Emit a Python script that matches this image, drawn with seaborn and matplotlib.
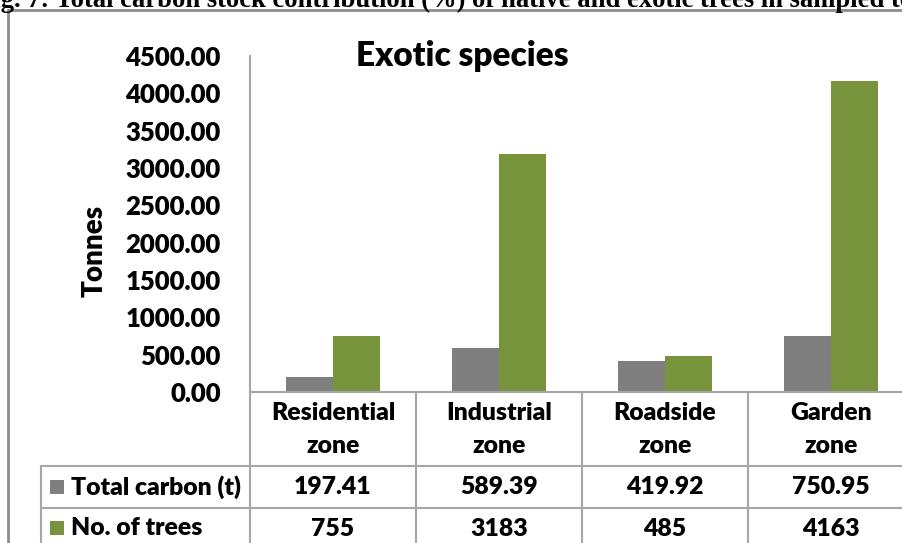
import matplotlib
matplotlib.use("Agg")
import matplotlib.pyplot as plt
import matplotlib.transforms as mtransforms
from matplotlib.patches import Rectangle
import pandas as pd
import seaborn as sns

# ---- data ----
zones = ["Residential\nzone", "Industrial\nzone", "Roadside\nzone", "Garden\nzone"]
series_names = ["Total carbon (t)", "No. of trees"]
total_carbon = [197.41, 589.39, 419.92, 750.95]
no_of_trees = [755, 3183, 485, 4163]
carbon_labels = ["197.41", "589.39", "419.92", "750.95"]
tree_labels = ["755", "3183", "485", "4163"]
y_ticks = [0, 500, 1000, 1500, 2000, 2500, 3000, 3500, 4000, 4500]

GRAY = "#7f7f7f"
GREEN = "#77933c"
LINE = "#a6a6a6"
FONT = "Lato"
WEIGHT = "heavy"

df = pd.DataFrame({
    "zone": zones * 2,
    "series": [series_names[0]] * 4 + [series_names[1]] * 4,
    "value": total_carbon + no_of_trees,
})

sns.set_theme(style="white")
plt.rcParams["font.family"] = [FONT, "DejaVu Sans"]
plt.rcParams["font.weight"] = WEIGHT

W, H = 903, 543
fig = plt.figure(figsize=(W / 100, H / 100), dpi=100)
fig.patch.set_facecolor("white")

def fx(px):
    return px / W

def fy(px):
    return 1 - px / H

# axes spans four category columns of ~166 px starting at the value axis
ax_left, ax_right = 250, 914
ax_top, ax_base = 56, 392
ax = fig.add_axes([fx(ax_left), fy(ax_base), fx(ax_right - ax_left), (ax_base - ax_top) / H])
ax.set_facecolor("none")

sns.barplot(data=df, x="zone", y="value", hue="series", order=zones,
            hue_order=series_names, palette=[GRAY, GREEN], width=0.566,
            gap=0, saturation=1, legend=False, ax=ax, linewidth=0)

ax.set_xlim(-0.5, 3.5)
ax.set_ylim(0, 4500)
ax.set_yticks(y_ticks)
ax.set_yticklabels([f"{v:.2f}" for v in y_ticks], fontsize=18.5,
                   fontweight=WEIGHT, color="black")
ax.tick_params(axis="y", length=0, pad=21)
ax.set_xticks([])
ax.set_xlabel("")
ax.set_ylabel("")
for side in ["top", "right", "bottom"]:
    ax.spines[side].set_visible(False)
ax.spines["left"].set_color(LINE)
ax.spines["left"].set_linewidth(1.5)

# ---- chart frame and caption ----
frame_kw = dict(color="#8c8c8c", lw=2, transform=fig.transFigure, clip_on=False)
fig.add_artist(plt.Line2D([fx(8), 1], [fy(10), fy(10)], **frame_kw))
fig.add_artist(plt.Line2D([fx(8), fx(8)], [fy(10), 0], **frame_kw))

caption = "Fig. 7: Total carbon stock contribution (%) of native and exotic trees in sampled town"
cap_kw = dict(fontsize=19.2, fontweight="bold", family="Liberation Serif", color="black")
probe = fig.text(0, 0, "Fi", **cap_kw)
fig.canvas.draw()
lead = probe.get_window_extent().width
probe.remove()
fig.text(fx(-lead + 1), fy(7), caption, ha="left", va="baseline", **cap_kw)

# ---- titles ----
fig.text(fx(462), fy(56), "Exotic species", ha="center", va="center",
         fontsize=24, fontweight=WEIGHT, color="black")
fig.text(fx(95), fy(251), "Tonnes", ha="center", va="center", rotation=90,
         fontsize=20, fontweight=WEIGHT, color="black")

# ---- data table under the plot ----
tx = mtransforms.blended_transform_factory(ax.transData, fig.transFigure)
line_kw = dict(color=LINE, lw=1.5, clip_on=False)

# top rule of the table (category axis line)
fig.add_artist(plt.Line2D([fx(250), 1], [fy(392), fy(392)], transform=fig.transFigure, **line_kw))
# row rules
for ypx in (466, 508):
    fig.add_artist(plt.Line2D([fx(41), 1], [fy(ypx), fy(ypx)], transform=fig.transFigure, **line_kw))
# legend block left edge
fig.add_artist(plt.Line2D([fx(41), fx(41)], [fy(466), 0], transform=fig.transFigure, **line_kw))
# column separators
for i in range(len(zones) + 1):
    xb = i - 0.5
    fig.add_artist(plt.Line2D([xb, xb], [fy(392), 0], transform=tx, **line_kw))

cell_fs = 17.8
for i, z in enumerate(zones):
    top_word, bottom_word = z.split("\n")
    fig.text(i, fy(413), top_word, transform=tx, ha="center", va="center",
             fontsize=cell_fs, fontweight=WEIGHT, color="black")
    fig.text(i, fy(446), bottom_word, transform=tx, ha="center", va="center",
             fontsize=cell_fs, fontweight=WEIGHT, color="black")
    fig.text(i, fy(487), carbon_labels[i], transform=tx, ha="center", va="center",
             fontsize=cell_fs, fontweight=WEIGHT, color="black")
    fig.text(i, fy(529), tree_labels[i], transform=tx, ha="center", va="center",
             fontsize=cell_fs, fontweight=WEIGHT, color="black")

# legend keys inside the table
for name, color, ycen in ((series_names[0], GRAY, 487), (series_names[1], GREEN, 528)):
    fig.add_artist(Rectangle((fx(50), fy(ycen + 7)), fx(14), 14 / H,
                             transform=fig.transFigure, facecolor=color, edgecolor="none"))
    fig.text(fx(71), fy(ycen), name, ha="left", va="center",
             fontsize=cell_fs, fontweight=WEIGHT, color="black")

fig.savefig("out.png", dpi=100)
